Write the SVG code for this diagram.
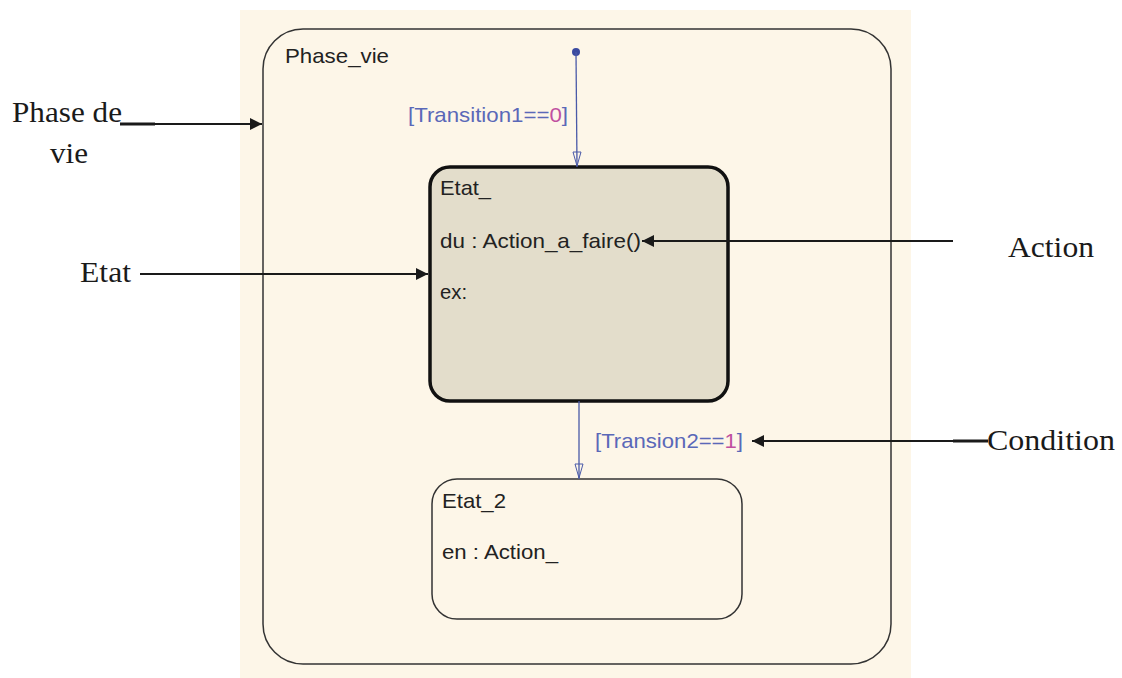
<svg xmlns="http://www.w3.org/2000/svg" width="1122" height="678" viewBox="0 0 1122 678">
<defs>
<marker id="fa" viewBox="0 0 10 10" refX="10" refY="5" markerWidth="12" markerHeight="12" markerUnits="userSpaceOnUse" orient="auto"><path d="M0,0 L10,5 L0,10 Z" fill="#1a1a1a"/></marker>
<marker id="oa" viewBox="0 0 10 16" refX="5" refY="16" markerWidth="10" markerHeight="16" markerUnits="userSpaceOnUse" orient="0"><path d="M1,1 L9,1 L5,15 Z" fill="none" stroke="#4a5aa8" stroke-width="1"/></marker>
</defs>
<style>
.sf{font-family:"Liberation Sans",Arial,sans-serif;font-size:21px;fill:#222}
.tr{font-family:"Liberation Sans",Arial,sans-serif;font-size:21px;fill:#5a68b8}
.pk{fill:#c050a0}
.tm{font-family:"Liberation Serif","Times New Roman",serif;font-size:29px;fill:#1a1a1a}
.ann{stroke:#1a1a1a;stroke-width:2;fill:none}
.tl{stroke:#4a5aa8;stroke-width:1.3;fill:none}
</style>
<rect x="240" y="10" width="671" height="668" fill="#fdf6e8"/>
<g id="phase_vie">
<rect x="263" y="29" width="628" height="635" rx="40" ry="40" fill="none" stroke="#333" stroke-width="1.5"/>
<text class="sf" x="285" y="63" textLength="104" lengthAdjust="spacingAndGlyphs">Phase_vie</text>
</g>
<g id="etat_">
<rect x="430" y="167" width="298" height="234" rx="20" ry="20" fill="#e3ddcb" stroke="#111" stroke-width="3.5"/>
<text class="sf" x="440" y="195" textLength="51" lengthAdjust="spacingAndGlyphs">Etat_</text>
<text class="sf" x="440" y="248" textLength="201" lengthAdjust="spacingAndGlyphs">du : Action_a_faire()</text>
<text class="sf" x="440" y="299" textLength="27" lengthAdjust="spacingAndGlyphs">ex:</text>
</g>
<g id="etat_2">
<rect x="432" y="479" width="310" height="140" rx="25" ry="25" fill="none" stroke="#333" stroke-width="1.5"/>
<text class="sf" x="442" y="508" textLength="64" lengthAdjust="spacingAndGlyphs">Etat_2</text>
<text class="sf" x="442" y="559" textLength="116" lengthAdjust="spacingAndGlyphs">en : Action_</text>
</g>
<g id="labels">
<text class="tm" x="12" y="122" textLength="110" lengthAdjust="spacingAndGlyphs">Phase de</text>
<text class="tm" x="50" y="163" textLength="38" lengthAdjust="spacingAndGlyphs">vie</text>
<text class="tm" x="80" y="282" textLength="51" lengthAdjust="spacingAndGlyphs">Etat</text>
<text class="tm" x="1008" y="257" textLength="86" lengthAdjust="spacingAndGlyphs">Action</text>
<text class="tm" x="987" y="450" textLength="128" lengthAdjust="spacingAndGlyphs">Condition</text>
</g>
<g id="connectors">
<circle cx="576" cy="52" r="4" fill="#3a4aa0"/>
<line class="tl" x1="576" y1="52" x2="577" y2="167" marker-end="url(#oa)"/>
<text class="tr" x="408" y="122" textLength="160" lengthAdjust="spacingAndGlyphs">[Transition1==<tspan class="pk">0</tspan>]</text>
<line class="tl" x1="579" y1="401" x2="579" y2="479" marker-end="url(#oa)"/>
<text class="tr" x="595" y="448" textLength="148" lengthAdjust="spacingAndGlyphs">[Transion2==<tspan class="pk">1</tspan>]</text>
<line class="ann" x1="120" y1="124" x2="262" y2="124" marker-end="url(#fa)"/>
<line x1="120" y1="124" x2="155" y2="124" stroke="#1a1a1a" stroke-width="3"/>
<line class="ann" x1="140" y1="274" x2="428" y2="274" marker-end="url(#fa)"/>
<line class="ann" x1="953" y1="241" x2="642" y2="241" marker-end="url(#fa)"/>
<line class="ann" x1="988" y1="441" x2="752" y2="441" marker-end="url(#fa)"/>
<line x1="953" y1="441" x2="988" y2="441" stroke="#1a1a1a" stroke-width="3"/>
</g>
</svg>
